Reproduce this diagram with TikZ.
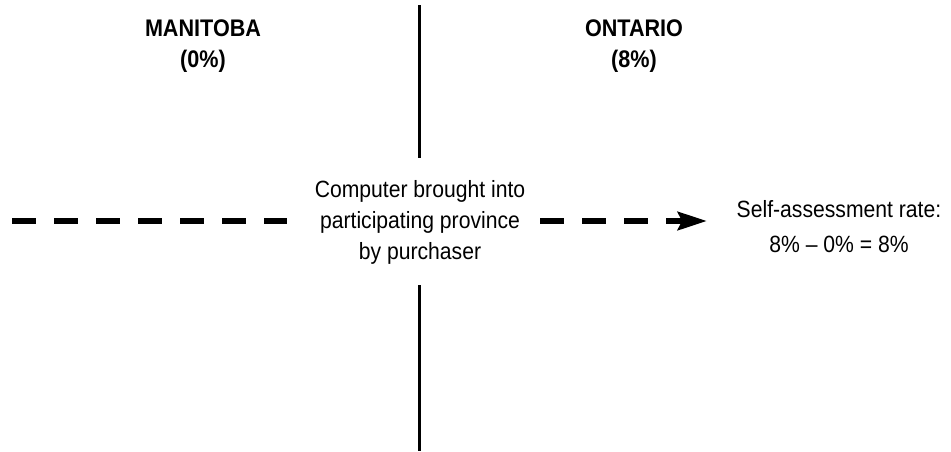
\documentclass[tikz,border=0pt]{standalone}
\usepackage{fontspec}
\setmainfont[FakeStretch=0.9]{Liberation Sans}
\usetikzlibrary{arrows.meta}
\tikzset{
  lbl/.style={inner sep=0pt, align=center, font=\fontsize{23.5}{31}\selectfont},
  hdr/.style={inner sep=0pt, align=center, font=\fontsize{24}{31}\selectfont\bfseries},
  divider/.style={line width=3pt, black},
  dashline/.style={line width=6pt, dash pattern=on 24pt off 18pt, black},
  arrowline/.style={dashline, -{Stealth[length=29pt,width=18pt,inset=4pt]}}
}
\begin{document}
\begin{tikzpicture}[x=1pt,y=1pt]
\useasboundingbox (0,0) rectangle (951,-451);
% headers
\node[hdr, anchor=north] (mb) at (203,-20) {MANITOBA\\(0\%)};
\node[hdr, anchor=north] (on) at (634,-20) {ONTARIO\\(8\%)};
% divider
\coordinate (vt1) at (419,-5);
\coordinate (vt2) at (419,-158);
\coordinate (vb1) at (419,-285);
\coordinate (vb2) at (419,-451);
\draw[divider] (vt1) -- (vt2);
\draw[divider] (vb1) -- (vb2);
% centre text
\node[lbl, anchor=north] (ctr) at (420,-180) {Computer brought into\\participating province\\by purchaser};
% result
\node[lbl, anchor=north, font=\fontsize{23.5}{35}\selectfont] (res) at (839,-200) {Self-assessment rate:\\8\% -- 0\% = 8\%};
% dashed connectors
\coordinate (ls) at (12,-221);
\coordinate (le) at (287,-221);
\coordinate (rs) at (540,-221);
\coordinate (re) at (707,-221);
\draw[dashline] (ls) -- (le);
\draw[arrowline] (rs) -- (re);
\end{tikzpicture}
\end{document}
